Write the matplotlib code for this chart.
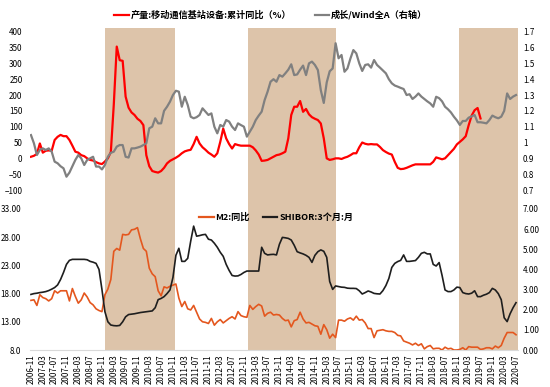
import numpy as np
import matplotlib
matplotlib.use("Agg")
import matplotlib.pyplot as plt
from matplotlib.lines import Line2D

plt.rcParams['font.family'] = ['Noto Sans CJK SC', 'DejaVu Sans']

# ---------------- data ----------------
months = [f"{2006 + (10 + k) // 12}-{(10 + k) % 12 + 1:02d}" for k in range(165)]
tick_labels = months[::4]

base_station_yoy = [5, 8, 14, 47, 18, 24, 25, 24, 58, 68, 74, 70, 70, 58, 40, 21, 18, 10, 7, 0,
                    -5, -7, -12, -16, -18, -10, 0, 20, 170, 353, 310, 308, 195, 160, 145, 137, 125, 118, 105, 10,
                    -25, -40, -43, -45, -40, -30, -16, -8, -3, 2, 8, 16, 22, 25, 27, 45, 68, 47, 35, 27,
                    18, 12, 5, 16, 52, 94, 63, 45, 31, 45, 42, 40, 40, 40, 40, 35, 25, 12, -8, -7,
                    -5, 0, 5, 10, 12, 16, 21, 63, 137, 163, 163, 181, 147, 156, 139, 130, 125, 121, 110, 63,
                    0, -5, -3, 0, 0, -2, 2, 5, 10, 16, 16, 35, 50, 46, 44, 45, 44, 44, 36, 26,
                    20, 15, 12, -11, -30, -34, -33, -30, -26, -22, -19, -19, -19, -19, -19, -19, -11, 3, 0, -3,
                    0, 10, 20, 30, 44, 52, 60, 70, 105, 135, 152, 159, 126]

growth_vs_winda = [1.047, 0.995, 0.921, 0.953, 0.963, 0.953, 0.963, 0.942, 0.879, 0.869,
                   0.85, 0.837, 0.784, 0.81, 0.85, 0.89, 0.921, 0.9, 0.858, 0.89,
                   0.9, 0.91, 0.848, 0.848, 0.83, 0.858, 0.91, 0.935, 0.942, 0.974,
                   0.984, 0.984, 0.91, 0.905, 0.963, 0.963, 0.968, 0.974, 0.984, 0.995,
                   1.09, 1.1, 1.153, 1.121, 1.121, 1.2, 1.226, 1.258, 1.3, 1.327,
                   1.321, 1.226, 1.289, 1.237, 1.163, 1.153, 1.16, 1.174, 1.216, 1.195,
                   1.174, 1.184, 1.1, 1.058, 1.111, 1.1, 1.142, 1.132, 1.1, 1.079,
                   1.121, 1.11, 1.1, 1.037, 1.068, 1.1, 1.142, 1.17, 1.195, 1.268,
                   1.321, 1.384, 1.40, 1.384, 1.426, 1.416, 1.437, 1.46, 1.494, 1.426,
                   1.43, 1.46, 1.486, 1.426, 1.5, 1.511, 1.49, 1.458, 1.33, 1.25,
                   1.38, 1.45, 1.468, 1.627, 1.532, 1.553, 1.447, 1.468, 1.53, 1.584,
                   1.563, 1.50, 1.452, 1.49, 1.494, 1.473, 1.521, 1.49, 1.473, 1.455,
                   1.437, 1.40, 1.374, 1.36, 1.353, 1.345, 1.338, 1.30, 1.305, 1.275,
                   1.29, 1.31, 1.29, 1.275, 1.26, 1.247, 1.226, 1.289, 1.28, 1.26,
                   1.226, 1.21, 1.19, 1.163, 1.14, 1.111, 1.136, 1.136, 1.157, 1.165,
                   1.174, 1.128, 1.128, 1.125, 1.121, 1.142, 1.17, 1.16, 1.153, 1.163,
                   1.20, 1.31, 1.275, 1.29, 1.30]

m2_yoy = [16.8, 16.9, 15.9, 17.8, 17.3, 17.1, 16.7, 17.1, 18.5, 18.1, 18.5, 18.5, 18.5, 16.7, 18.9,
          17.5, 16.3, 16.9, 18.1, 17.4, 16.4, 16.0, 15.3, 15.0, 14.8, 17.8, 18.8, 20.5, 25.5, 26.0,
          25.7, 28.5, 28.4, 28.5, 29.3, 29.4, 29.7, 27.7, 26.0, 25.5, 22.5, 21.5, 21.0, 18.5, 17.6,
          19.2, 19.0, 19.3, 19.5, 19.7, 17.2, 15.7, 16.6, 15.3, 15.1, 15.9, 14.7, 13.5, 13.0, 12.9,
          12.7, 13.6, 12.4, 13.0, 13.4, 12.8, 13.2, 13.6, 13.9, 13.5, 14.8, 14.1, 13.9, 13.8, 15.9,
          15.2, 15.7, 16.1, 15.8, 14.0, 14.5, 14.7, 14.2, 14.3, 14.2, 13.6, 13.2, 13.3, 12.1, 13.2,
          13.4, 14.7, 13.5, 12.8, 12.9, 12.6, 12.3, 12.2, 10.8, 12.5, 11.6, 10.1, 10.8, 10.2, 13.3,
          13.3, 13.1, 13.5, 13.7, 13.3, 14.0, 13.3, 13.4, 12.8, 11.8, 11.8, 10.2, 11.4, 11.5, 11.6,
          11.4, 11.3, 11.3, 11.1, 10.6, 10.5, 9.6, 9.4, 9.2, 8.9, 9.2, 8.8, 9.1, 8.2, 8.6,
          8.8, 8.2, 8.3, 8.3, 8.0, 8.5, 8.2, 8.3, 8.0, 8.0, 8.1, 8.4, 8.0, 8.6, 8.5,
          8.5, 8.5, 8.1, 8.2, 8.4, 8.4, 8.2, 8.7, 8.4, 8.8, 10.1, 11.1, 11.1, 11.1, 10.7]

shibor_3m = [2.76, 2.80, 2.82, 2.85, 2.87, 2.90, 2.95, 3.02, 3.10, 3.23, 3.50, 3.85, 4.25, 4.45, 4.50,
             4.50, 4.50, 4.50, 4.50, 4.48, 4.40, 4.36, 4.30, 4.00, 3.00, 1.90, 1.40, 1.24, 1.21, 1.20,
             1.22, 1.40, 1.65, 1.76, 1.78, 1.80, 1.83, 1.86, 1.88, 1.90, 1.92, 1.94, 2.10, 2.50, 2.56,
             2.65, 2.80, 2.98, 3.60, 4.70, 5.05, 4.40, 4.40, 4.55, 5.40, 6.15, 5.65, 5.68, 5.72, 5.74,
             5.50, 5.46, 5.30, 5.10, 4.85, 4.65, 4.25, 3.95, 3.70, 3.67, 3.68, 3.75, 3.85, 3.92, 3.92,
             3.92, 3.92, 3.92, 5.10, 4.80, 4.72, 4.74, 4.75, 4.72, 5.25, 5.59, 5.57, 5.54, 5.46, 5.20,
             4.88, 4.82, 4.77, 4.70, 4.60, 4.35, 4.70, 4.88, 4.97, 4.90, 4.60, 3.40, 3.01, 3.18, 3.15,
             3.12, 3.11, 3.07, 3.06, 3.06, 3.05, 2.94, 2.78, 2.85, 2.93, 2.88, 2.81, 2.79, 2.78, 2.95,
             3.20, 3.55, 4.10, 4.30, 4.39, 4.45, 4.72, 4.40, 4.40, 4.42, 4.44, 4.60, 4.80, 4.85, 4.77,
             4.77, 4.25, 4.17, 4.34, 3.70, 2.98, 2.90, 2.90, 2.98, 3.12, 3.10, 2.85, 2.80, 2.78, 2.82,
             2.94, 2.65, 2.65, 2.72, 2.77, 2.85, 3.06, 2.98, 2.80, 2.50, 1.60, 1.41, 1.80, 2.10, 2.35]

shade_spans = [(25.1, 48.6), (73.5, 103.3), (144.8, 164.5)]

# ---------------- figure ----------------
W, H = 550, 387
fig = plt.figure(figsize=(W / 100, H / 100), dpi=100)

def frac(x0, y_top, x1, y_bot):
    return [x0 / W, 1 - y_bot / H, (x1 - x0) / W, (y_bot - y_top) / H]

ax1 = fig.add_axes(frac(29.5, 31.7, 517.5, 190))
ax1r = ax1.twinx()
ax2 = fig.add_axes(frac(29.5, 209, 517.5, 350))
ax2r = ax2.twinx()

shade_col = '#DDC4AA'
fs = 5.8
red = '#FF0000'
gray = '#808080'
orange = '#E4571E'
black = '#1E1E1E'

x_top = np.arange(len(base_station_yoy))
x_all = np.arange(len(months))

for a, b in shade_spans:
    ax1.axvspan(a, b, ymin=-0.06, ymax=1.022, color=shade_col, lw=0, zorder=0, clip_on=False)
    ax2.axvspan(a, b, ymin=0, ymax=1.08, color=shade_col, lw=0, zorder=0, clip_on=False)

ax1.plot(x_top, base_station_yoy, color=red, lw=1.6, zorder=3)
ax1r.plot(x_all, growth_vs_winda, color=gray, lw=1.6, zorder=3)
ax2.plot(x_all, m2_yoy, color=orange, lw=1.2, zorder=3)
ax2r.plot(x_all, shibor_3m, color=black, lw=1.2, zorder=3)

for a in (ax1, ax1r, ax2, ax2r):
    a.set_xlim(-0.5, len(months) - 0.5)
    for s in a.spines.values():
        s.set_visible(False)
    a.patch.set_visible(False)
    a.tick_params(length=0, labelsize=fs)

ax1.set_ylim(-100, 400)
ax1.set_yticks(np.arange(-100, 401, 50))
ax1.tick_params(axis='y', pad=5)
ax1.tick_params(axis='x', labelbottom=False)
ax1r.set_ylim(0.7, 1.7)
ax1r.set_yticks(np.arange(0.7, 1.71, 0.1))
ax1r.set_yticklabels(['0.7', '0.8', '0.9', '1', '1.1', '1.2', '1.3', '1.4', '1.5', '1.6', '1.7'])
ax1r.tick_params(axis='y', pad=4)
ax1r.tick_params(axis='x', labelbottom=False)

ax2.set_ylim(8, 33)
ax2.set_yticks([8, 13, 18, 23, 28, 33])
ax2.set_yticklabels(['8.0', '13.00', '18.00', '23.00', '28.00', '33.00'])
ax2.tick_params(axis='y', pad=6)
ax2.spines['bottom'].set_visible(True)
ax2.spines['bottom'].set_color('#D9D9D9')
ax2.spines['bottom'].set_linewidth(0.8)
ax2.set_xticks(x_all[::4])
ax2.set_xticklabels(tick_labels, rotation=90, fontsize=fs)
ax2.tick_params(axis='x', pad=3)
ax2r.set_ylim(0, 7)
ax2r.set_yticks(np.arange(0, 7.01, 1))
ax2r.set_yticklabels([f"{v:.2f}" for v in np.arange(0, 7.01, 1)])
ax2r.tick_params(axis='y', pad=4)
ax2r.tick_params(axis='x', labelbottom=False)

h_top = [Line2D([], [], color=red, lw=1.6), Line2D([], [], color=gray, lw=1.6)]
fig.legend(h_top, ['产量:移动通信基站设备:累计同比（%）', '成长/Wind全A（右轴）'],
           loc='center', bbox_to_anchor=(0.492, 0.961), ncol=2, frameon=False,
           prop={'size': 6.6, 'weight': 'bold'}, handlelength=1.6, handletextpad=0.2,
           columnspacing=2.6)

h_bot = [Line2D([], [], color=orange, lw=1.6), Line2D([], [], color=black, lw=1.6)]
fig.legend(h_bot, ['M2:同比', 'SHIBOR:3个月:月'],
           loc='center', bbox_to_anchor=(0.502, 0.439), ncol=2, frameon=False,
           prop={'size': 6.6, 'weight': 'bold'}, handlelength=1.6, handletextpad=0.2,
           columnspacing=1.4)

fig.savefig('out.png', dpi=100)
